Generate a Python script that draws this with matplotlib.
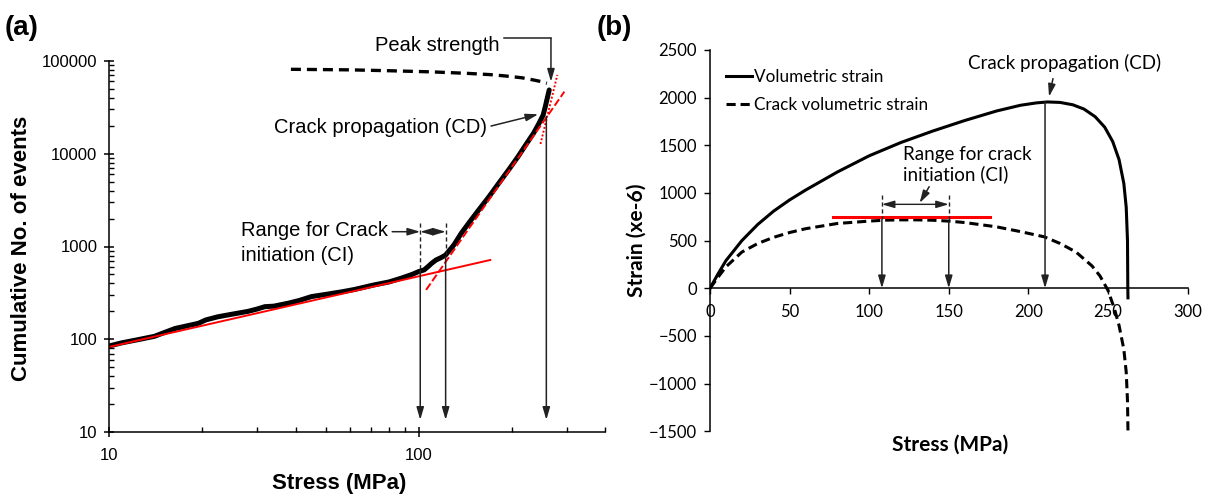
import matplotlib
matplotlib.use('Agg')
from matplotlib import pyplot as plt
from matplotlib import ticker

W, H = 1211, 495

# ---- panel (a): cumulative AE events vs stress (log-log) ----
ae_stress = [10, 11, 12.5, 14, 15, 16.3, 17.5, 19.4, 20.5, 22.4, 25.2, 28, 30, 31.8, 34, 37.8,
             41, 45, 50, 56.6, 62, 71.4, 80, 87.5, 95, 99.7, 104, 107, 110, 113.6, 118, 122,
             130, 137, 146, 156, 168, 181, 195, 209, 222, 234.5, 244, 252, 256, 260, 263.6]
ae_events = [85, 92, 100, 108, 118, 131, 138, 149, 162, 175, 188, 200, 212, 225, 228, 245,
             262, 289, 305, 326, 345, 385, 415, 455, 500, 536, 560, 607, 660, 716, 760, 810,
             1050, 1387, 1850, 2472, 3400, 4786, 6700, 9268, 12600, 16540, 21000, 26060, 32000,
             40000, 48400]
peak_curve_x = [38.6, 60, 80, 110, 143, 170, 191, 215, 234.6, 250, 259]
peak_curve_y = [80800, 79700, 78000, 75800, 73100, 70800, 68400, 65500, 62000, 59300, 57100]
fit_ci_x = [10, 170]
fit_ci_y = [83, 716]
fit_cd_x = [105.5, 295]
fit_cd_y = [341, 46400]
fit_pk_x = [247, 280]
fit_pk_y = [12700, 70200]
ci_range_a = [101, 122]
ci_curve_a = [558, 776]
cd_stress_a = 258
peak_stress_a = 267

# ---- panel (b): strain vs stress ----
vol_stress = [0, 2, 5, 10, 20, 30, 40, 50, 60, 80, 100, 120, 140, 160, 180, 195, 205, 212,
              220, 228, 235, 242, 248, 253, 257, 260, 261.5, 262.3, 262.5, 262.6]
vol_strain = [0, 60, 150, 290, 500, 670, 810, 927, 1030, 1220, 1390, 1530, 1650, 1760, 1860,
              1920, 1945, 1955, 1950, 1925, 1880, 1800, 1690, 1540, 1350, 1100, 850, 500, 0, -100]
crack_stress = [0, 5, 10, 20, 30, 40, 50, 60, 80, 100, 110, 120, 130, 140, 150, 160, 180, 195,
                210, 220, 230, 240, 245, 250, 254, 257, 260, 261.5, 262.3, 262.6]
crack_strain = [0, 115, 225, 380, 470, 535, 585, 625, 680, 705, 715, 718, 718, 714, 705, 690,
                645, 595, 540, 470, 380, 235, 130, -20, -210, -390, -640, -880, -1180, -1500]
ci_line_x = [77, 176]
ci_line_y = [745, 745]
ci_range_b = [108, 150]
ci_curve_b = [722, 705]
cd_stress_b = 210.5
cd_strain_b = 1956

fig = plt.figure(figsize=(W / 100, H / 100), dpi=100)

AR = 'Liberation Sans'
LA = 'Lato'


def arrow(ax, x0, y0, x1, y1, style='-|>', lw=1.1, color='#222222'):
    ax.annotate('', xy=(x1, y1), xytext=(x0, y0), annotation_clip=False,
                arrowprops=dict(arrowstyle=style + ',head_length=0.75,head_width=0.22',
                                color=color, lw=lw, shrinkA=0, shrinkB=0,
                                mutation_scale=10, clip_on=False))


# ================= (a) =================
axa = fig.add_axes([109.3 / W, 62.7 / H, 496 / W, 371.6 / H])
axa.set_xscale('log')
axa.set_yscale('log')
axa.set_xlim(10, 400)
axa.set_ylim(10, 100000)
for s in ['top', 'right']:
    axa.spines[s].set_visible(False)
for s in ['left', 'bottom']:
    axa.spines[s].set_linewidth(1.1)

axa.plot(peak_curve_x, peak_curve_y, color='black', lw=2.4, ls=(0, (3, 1.8)))
axa.plot(ae_stress, ae_events, color='black', lw=3.6, solid_capstyle='round')
axa.plot(fit_ci_x, fit_ci_y, color='red', lw=1.4)
axa.plot(fit_cd_x, fit_cd_y, color='red', lw=1.4, ls=(0, (4, 1.5)))
axa.plot(fit_pk_x, fit_pk_y, color='red', lw=1.4, ls=(0, (1, 1)))

axa.xaxis.set_major_locator(ticker.FixedLocator([10, 100]))
axa.xaxis.set_minor_locator(ticker.LogLocator(base=10, subs=range(2, 10)))
axa.yaxis.set_major_locator(ticker.FixedLocator([10, 100, 1000, 10000, 100000]))
axa.yaxis.set_minor_locator(ticker.LogLocator(base=10, subs=range(2, 10)))
fmt = ticker.FuncFormatter(lambda v, p: '%d' % round(v))
axa.xaxis.set_major_formatter(fmt)
axa.yaxis.set_major_formatter(fmt)
axa.xaxis.set_minor_formatter(ticker.NullFormatter())
axa.yaxis.set_minor_formatter(ticker.NullFormatter())
axa.tick_params(which='major', direction='inout', length=7, width=1.1, labelsize=12)
axa.tick_params(which='minor', direction='in', length=3.5, width=1.0)
axa.tick_params(axis='x', which='major', pad=8)
axa.tick_params(axis='y', which='major', pad=5)
for lab in axa.get_xticklabels() + axa.get_yticklabels():
    lab.set_fontfamily(AR)

# annotations (a)
axa.text(182, 144000, 'Peak strength', ha='right', va='center', fontsize=14.5, family=AR)
axa.plot([189, peak_stress_a], [174000, 174000], color='#222222', lw=1.1, clip_on=False)
arrow(axa, peak_stress_a, 174000, peak_stress_a, 59400)

axa.text(166, 19200, 'Crack propagation (CD)', ha='right', va='center', fontsize=14.5,
         family=AR)
arrow(axa, 171, 19800, 243, 26500)

axa.text(26.7, 1092, 'Range for Crack\ninitiation (CI)', ha='left', va='center',
         fontsize=14.5, family=AR, linespacing=1.4)
arrow(axa, 82, 1443, ci_range_a[0], 1443)
arrow(axa, ci_range_a[0], 1443, ci_range_a[1], 1443, style='<|-|>', lw=1.0)
for xs, yc in zip(ci_range_a, ci_curve_a):
    axa.plot([xs, xs], [1778, yc], color='#222222', lw=1.0, ls=(0, (3, 2)))
    arrow(axa, xs, yc, xs, 13.6)
arrow(axa, cd_stress_a, 24950, cd_stress_a, 13.6)

fig.text(22 / W, 1 - 248.5 / H, 'Cumulative No. of events', rotation=90, ha='center',
         va='center', fontsize=16, fontweight='bold', family=AR)
fig.text(339 / W, 1 - 483 / H, 'Stress (MPa)', ha='center', va='center', fontsize=16,
         fontweight='bold', family=AR)
fig.text(5 / W, 1 - 28 / H, '(a)', ha='left', va='center', fontsize=20, fontweight='bold',
         family=AR)

# ================= (b) =================
axb = fig.add_axes([710 / W, 63.7 / H, 477.5 / W, 381.3 / H])
axb.set_xlim(0, 300)
axb.set_ylim(-1500, 2500)
for s in ['top', 'right']:
    axb.spines[s].set_visible(False)
axb.spines['bottom'].set_position(('data', 0))
for s in ['left', 'bottom']:
    axb.spines[s].set_linewidth(1.1)
axb.set_xticks(range(0, 301, 50))
axb.set_yticks(range(-1500, 2501, 500))
axb.tick_params(direction='out', length=4.5, width=1.0, labelsize=12)
axb.tick_params(axis='x', pad=7)
axb.tick_params(axis='y', pad=5)
for lab in axb.get_xticklabels() + axb.get_yticklabels():
    lab.set_fontfamily(LA)

axb.plot(vol_stress, vol_strain, color='black', lw=2.2, label='Volumetric strain')
axb.plot(crack_stress, crack_strain, color='black', lw=2.2, ls=(0, (3, 1.6)),
         label='Crack volumetric strain')
axb.plot(ci_line_x, ci_line_y, color='red', lw=2.2)

leg = axb.legend(loc='upper left', bbox_to_anchor=(0.02, 0.968), frameon=False,
                 prop={'family': LA, 'size': 12.3}, handlelength=1.5, handletextpad=0.1,
                 labelspacing=0.72, borderaxespad=0)

axb.text(161.9, 2363, 'Crack propagation (CD)', ha='left', va='center', fontsize=13.5,
         family=LA)
arrow(axb, 215.5, 2200, 213, 2010)
arrow(axb, cd_stress_b, cd_strain_b, cd_stress_b, 0)

axb.text(121.3, 1298, 'Range for crack\ninitiation (CI)', ha='left', va='center',
         fontsize=13.5, family=LA, linespacing=1.1)
arrow(axb, 137.7, 1066, 131.7, 895)
arrow(axb, ci_range_b[0], 881, ci_range_b[1], 881, style='<|-|>', lw=1.0)
for xs, yc in zip(ci_range_b, ci_curve_b):
    axb.plot([xs, xs], [980, yc], color='#222222', lw=1.0, ls=(0, (3, 2)))
    arrow(axb, xs, yc, xs, 0)

fig.text(637 / W, 1 - 240 / H, 'Strain (xe-6)', rotation=90, ha='center', va='center',
         fontsize=15, fontweight='bold', family=LA)
fig.text(950 / W, 1 - 445 / H, 'Stress (MPa)', ha='center', va='center', fontsize=15,
         fontweight='bold', family=LA)
fig.text(597 / W, 1 - 28 / H, '(b)', ha='left', va='center', fontsize=20, fontweight='bold',
         family=AR)

fig.savefig('out.png', dpi=100)
